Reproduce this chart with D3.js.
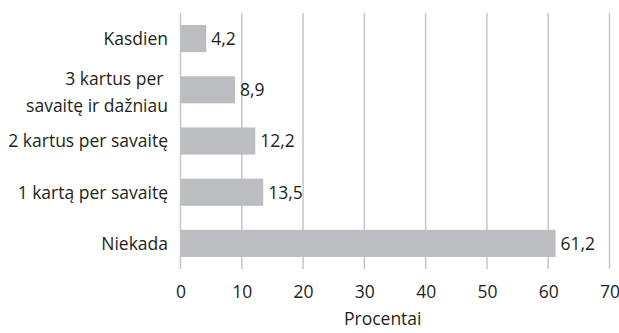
<!DOCTYPE html>
<html>
<head>
<meta charset="utf-8">
<script src="https://cdn.jsdelivr.net/npm/d3@7"></script>
<style>
  html, body { margin: 0; padding: 0; background: #fff; }
  svg { display: block; font-family: "Open Sans", sans-serif; }
</style>
</head>
<body>
<div id="chart"></div>
<script>
// categories top to bottom, multi-line labels as arrays
var categories = ['Kasdien', '3 kartus per savaitę ir dažniau', '2 kartus per savaitę', '1 kartą per savaitę', 'Niekada'];
var labelLines = [['Kasdien'], ['3 kartus per\u00a0', 'savaitę ir dažniau'], ['2 kartus per savaitę'], ['1 kartą per savaitę'], ['Niekada']];
var values = [4.2, 8.9, 12.2, 13.5, 61.2];
var xTicks = [0, 10, 20, 30, 40, 50, 60, 70];
var xTitle = 'Procentai';

var width = 619, height = 333;
var margin = { top: 13, right: 9, bottom: 64, left: 180 };
var fs = 17.5;

var svg = d3.select('#chart').append('svg')
  .attr('width', width)
  .attr('height', height);

var x = d3.scaleLinear().domain([0, 70]).range([margin.left + 0.5, width - margin.right - 0.5]);
var y = d3.scaleBand().domain(categories).range([margin.top, height - margin.bottom])
  .paddingInner(0.47).paddingOuter(0.235);

// vertical gridlines
svg.append('g')
  .selectAll('line')
  .data(xTicks)
  .join('line')
  .attr('x1', function (d) { return x(d); })
  .attr('x2', function (d) { return x(d); })
  .attr('y1', margin.top)
  .attr('y2', height - margin.bottom)
  .attr('stroke', '#c6c6c8')
  .attr('stroke-width', 1.5);

// bars
svg.append('g')
  .selectAll('rect')
  .data(values)
  .join('rect')
  .attr('x', x(0))
  .attr('y', function (d, i) { return y(categories[i]); })
  .attr('width', function (d) { return x(d) - x(0); })
  .attr('height', y.bandwidth())
  .attr('fill', '#bcbdc0');

// value labels
svg.append('g')
  .selectAll('text')
  .data(values)
  .join('text')
  .attr('x', function (d) { return x(d) + 5; })
  .attr('y', function (d, i) { return y(categories[i]) + y.bandwidth() / 2; })
  .attr('dy', '0.36em')
  .attr('font-size', fs)
  .attr('fill', '#231f20')
  .text(function (d) { return String(d).replace('.', ','); });

// category labels
var cat = svg.append('g')
  .selectAll('text')
  .data(categories)
  .join('text')
  .attr('x', margin.left - 12)
  .attr('y', function (d) { return y(d) + y.bandwidth() / 2; })
  .attr('text-anchor', 'end')
  .attr('font-size', fs)
  .attr('fill', '#231f20');

cat.each(function (d, i) {
  var lines = labelLines[i];
  var t = d3.select(this);
  lines.forEach(function (ln, j) {
    t.append('tspan')
      .attr('x', margin.left - 12)
      .attr('dy', j === 0 ? (0.36 - (lines.length - 1) * 0.66) + 'em' : '1.55em')
      .text(ln);
  });
});

// x axis tick labels
var axis = svg.append('g')
  .attr('transform', 'translate(0,' + (height - margin.bottom) + ')')
  .call(d3.axisBottom(x).tickValues(xTicks).tickSize(0).tickPadding(17));
axis.select('.domain').remove();
axis.selectAll('text')
  .attr('font-size', fs)
  .attr('font-family', '"Open Sans", sans-serif')
  .attr('fill', '#231f20');

svg.append('text')
  .attr('x', x(33))
  .attr('y', 325)
  .attr('text-anchor', 'middle')
  .attr('font-size', fs)
  .attr('fill', '#231f20')
  .text(xTitle);
</script>
</body>
</html>
